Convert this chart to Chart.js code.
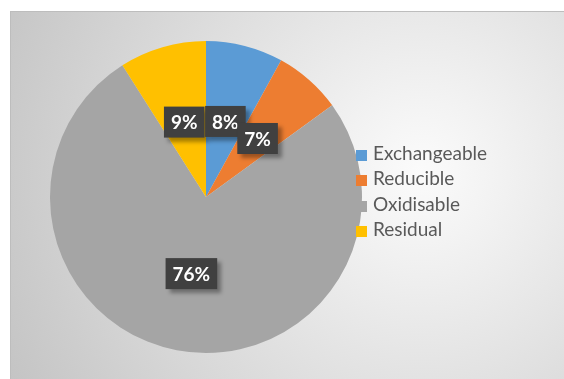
<!DOCTYPE html>
<html>
<head>
<meta charset="utf-8">
<script src="https://cdn.jsdelivr.net/npm/chart.js@4.4.0/dist/chart.umd.min.js"></script>
<style>
    body { margin: 0; width: 564px; height: 379px; overflow: hidden; position: relative; background: #fff; font-family: Lato, 'Open Sans', sans-serif; }
    #frame {
        position: absolute; left: 10px; top: 11px; width: 570px; height: 380px;
        border: 1px solid #bdbdbd;
        background: radial-gradient(circle 470px at 410px 160px, #fbfbfb 0%, #f3f3f3 15%, #c3c3c3 100%);
    }
    #chart { position: absolute; left: 10px; top: 11px; }
    #legend { position: absolute; left: 356px; top: 140px; margin: 0; padding: 0; list-style: none; }
    #legend li { height: 25.3px; line-height: 25.3px; font-size: 19px; color: #595959; white-space: nowrap; }
    #legend span { display: inline-block; width: 11px; height: 11px; margin-right: 6px; vertical-align: -1px; }
</style>
</head>
<body>
<div id="frame"></div>
<canvas id="chart" width="400" height="358"></canvas>
<ul id="legend"></ul>
<script>
const categories = ['Exchangeable', 'Reducible', 'Oxidisable', 'Residual'];
const shares = [8, 7, 76, 9];
const colors = ['#5b9bd5', '#ed7d31', '#a5a5a5', '#ffc000'];

// legend built from the same arrays
const legend = document.getElementById('legend');
categories.forEach((name, i) => {
    const li = document.createElement('li');
    li.innerHTML = `<span style="background:${colors[i]}"></span>${name}`;
    legend.appendChild(li);
});

// dark boxed percentage labels, drawn halfway out along each slice
const boxLabels = {
    id: 'boxLabels',
    afterDatasetsDraw(chart) {
        const ctx = chart.ctx;
        const arcs = chart.getDatasetMeta(0).data;
        const order = [3, 0, 1, 2];
        ctx.save();
        ctx.font = 'bold 19px Lato';
        ctx.textAlign = 'center';
        ctx.textBaseline = 'middle';
        order.forEach(i => {
            const arc = arcs[i];
            const mid = (arc.startAngle + arc.endAngle) / 2;
            const r = arc.outerRadius * 0.5;
            const x = arc.x + Math.cos(mid) * r;
            const y = arc.y + Math.sin(mid) * r;
            const text = shares[i] + '%';
            const w = ctx.measureText(text).width + 14;
            const h = 31;
            ctx.shadowColor = 'rgba(0,0,0,0.35)';
            ctx.shadowOffsetX = 4;
            ctx.shadowOffsetY = 4;
            ctx.shadowBlur = 4;
            ctx.fillStyle = '#404040';
            ctx.fillRect(x - w / 2, y - h / 2, w, h);
            ctx.shadowColor = 'transparent';
            ctx.fillStyle = '#ffffff';
            ctx.fillText(text, x, y + 1);
        });
        ctx.restore();
    }
};

new Chart(document.getElementById('chart'), {
    type: 'pie',
    data: {
        labels: categories,
        datasets: [{
            data: shares,
            backgroundColor: colors,
            borderWidth: 0
        }]
    },
    options: {
        responsive: false,
        animation: false,
        layout: { padding: { left: 40, top: 30, right: 48, bottom: 16 } },
        plugins: {
            legend: { display: false },
            tooltip: { enabled: false }
        }
    },
    plugins: [boxLabels]
});
</script>
</body>
</html>
